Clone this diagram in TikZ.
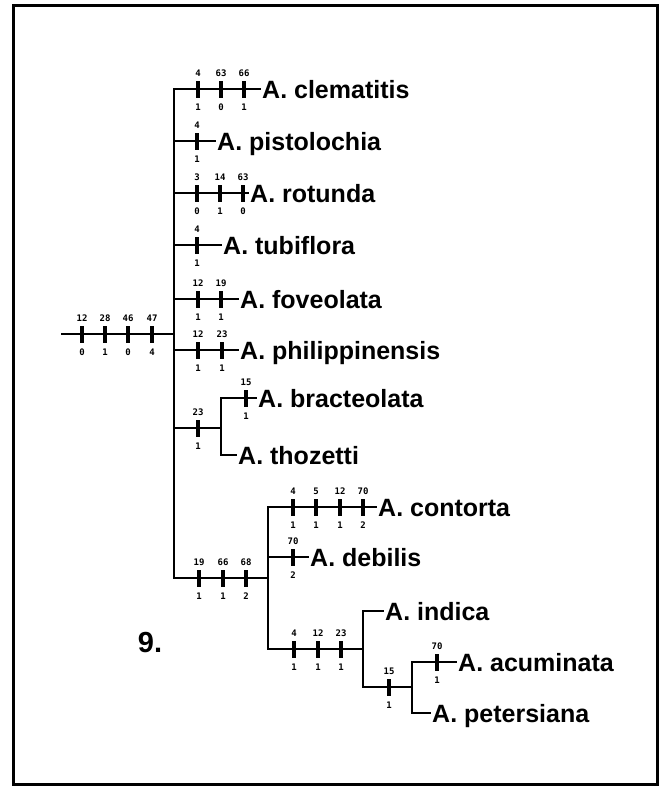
\documentclass[tikz,border=0pt]{standalone}
\usepackage{fontspec}
\setmainfont{Liberation Sans}
\newfontfamily\numfont{DejaVu Sans Mono}

% a character-state change: black bar on a branch, character number above, state below
\newcommand\synap[5]{%
  \node[tickbar] (#1) at (#2,#3) {};
  \node[num] (#1t) at ([yshift=16pt]#1.center) {#4};
  \node[num] (#1b) at ([yshift=-18pt]#1.center) {#5};}
% a terminal taxon, its text starting at x, its branch at y
\newcommand\taxon[4]{\node[taxon] (#1) at (#2-2,#3+9) {A. #4};}

\begin{document}
\begin{tikzpicture}[x=1pt,y=-1pt,
  branch/.style={line width=1.5pt, line cap=rect},
  tickbar/.style={fill=black, draw=none, inner sep=0pt, minimum width=4pt, minimum height=17pt},
  num/.style={font=\numfont\bfseries\fontsize{9}{9}\selectfont, inner sep=0pt},
  taxon/.style={font=\bfseries\fontsize{25}{25}\selectfont, inner sep=2pt, anchor=base west},
  frame/.style={line width=3pt}]
\useasboundingbox (0,0) rectangle (664,787);
\draw[frame] (13,5) rectangle (657,784);

% junctions
\coordinate (r0) at (62,334);
\coordinate (r1) at (174,334);
\coordinate (m1) at (174,89);
\coordinate (m2) at (174,141);
\coordinate (m3) at (174,193);
\coordinate (m4) at (174,245);
\coordinate (m5) at (174,299);
\coordinate (m6) at (174,350);
\coordinate (m7) at (174,428);
\coordinate (m8) at (174,578);
\coordinate (b0) at (221,428);
\coordinate (b1) at (221,398);
\coordinate (b2) at (221,455);
\coordinate (c0) at (268,578);
\coordinate (c1) at (268,507);
\coordinate (c2) at (268,557);
\coordinate (c3) at (268,649);
\coordinate (d0) at (363,649);
\coordinate (d1) at (363,611);
\coordinate (d2) at (363,687);
\coordinate (e0) at (412,687);
\coordinate (e1) at (412,662);
\coordinate (e2) at (412,713);

% terminal taxa
\taxon{clem}{262}{89}{clematitis}
\taxon{pist}{217}{141}{pistolochia}
\taxon{rotu}{250}{193}{rotunda}
\taxon{tubi}{223}{245}{tubiflora}
\taxon{fove}{240}{299}{foveolata}
\taxon{phil}{240}{350}{philippinensis}
\taxon{brac}{258}{398}{bracteolata}
\taxon{thoz}{238}{455}{thozetti}
\taxon{cont}{378}{507}{contorta}
\taxon{debi}{310}{557}{debilis}
\taxon{indi}{385}{611}{indica}
\taxon{acum}{458}{662}{acuminata}
\taxon{pete}{432}{713}{petersiana}

% branches
\draw[branch] (r0) -- (r1);
\draw[branch] (m1) -- (m8);
\draw[branch] (m1) -- (clem.west |- m1);
\draw[branch] (m2) -- (pist.west |- m2);
\draw[branch] (m3) -- (rotu.west |- m3);
\draw[branch] (m4) -- (tubi.west |- m4);
\draw[branch] (m5) -- (fove.west |- m5);
\draw[branch] (m6) -- (phil.west |- m6);
\draw[branch] (m7) -- (b0);
\draw[branch] (b1) -- (b2);
\draw[branch] (b1) -- (brac.west |- b1);
\draw[branch] (b2) -- (thoz.west |- b2);
\draw[branch] (m8) -- (c0);
\draw[branch] (c1) -- (c3);
\draw[branch] (c1) -- (cont.west |- c1);
\draw[branch] (c2) -- (debi.west |- c2);
\draw[branch] (c3) -- (d0);
\draw[branch] (d1) -- (d2);
\draw[branch] (d1) -- (indi.west |- d1);
\draw[branch] (d2) -- (e0);
\draw[branch] (e1) -- (e2);
\draw[branch] (e1) -- (acum.west |- e1);
\draw[branch] (e2) -- (pete.west |- e2);

% character-state changes
\synap{s1}{82}{334}{12}{0}
\synap{s2}{105}{334}{28}{1}
\synap{s3}{128}{334}{46}{0}
\synap{s4}{152}{334}{47}{4}
\synap{s5}{198}{89}{4}{1}
\synap{s6}{221}{89}{63}{0}
\synap{s7}{244}{89}{66}{1}
\synap{s8}{197}{141}{4}{1}
\synap{s9}{197}{193}{3}{0}
\synap{s10}{220}{193}{14}{1}
\synap{s11}{243}{193}{63}{0}
\synap{s12}{197}{245}{4}{1}
\synap{s13}{198}{299}{12}{1}
\synap{s14}{221}{299}{19}{1}
\synap{s15}{198}{350}{12}{1}
\synap{s16}{222}{350}{23}{1}
\synap{s17}{198}{428}{23}{1}
\synap{s18}{246}{398}{15}{1}
\synap{s19}{199}{578}{19}{1}
\synap{s20}{223}{578}{66}{1}
\synap{s21}{246}{578}{68}{2}
\synap{s22}{293}{507}{4}{1}
\synap{s23}{316}{507}{5}{1}
\synap{s24}{340}{507}{12}{1}
\synap{s25}{363}{507}{70}{2}
\synap{s26}{293}{557}{70}{2}
\synap{s27}{294}{649}{4}{1}
\synap{s28}{318}{649}{12}{1}
\synap{s29}{341}{649}{23}{1}
\synap{s30}{389}{687}{15}{1}
\synap{s31}{437}{662}{70}{1}

% figure number
\node[font=\bfseries\fontsize{29}{29}\selectfont, inner sep=0pt] (fignum) at (150,643) {9.};
\end{tikzpicture}
\end{document}
